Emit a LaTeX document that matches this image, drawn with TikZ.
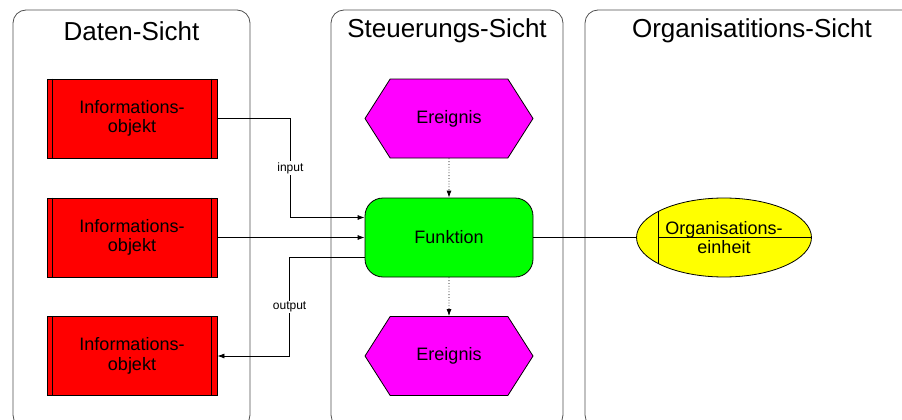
\documentclass[tikz,border=0pt]{standalone}
\usepackage{fontspec}
\setmainfont{Liberation Sans}
\usetikzlibrary{arrows.meta,shapes.geometric,shapes.symbols}
\definecolor{objred}{RGB}{255, 0, 0}
\definecolor{evmagenta}{RGB}{255, 0, 255}
\definecolor{fngreen}{RGB}{0, 255, 0}
\definecolor{orgyellow}{RGB}{255, 255, 0}
\definecolor{framegray}{RGB}{80, 80, 80}

\begin{document}
\begin{tikzpicture}[x = 1pt, y = -1pt, line width = 0.8pt,
			every node/.style = {font = \fontsize{18}{19.5}\selectfont, align = center},
			view/.style = {draw = framegray, rounded corners = 13pt},
			title/.style = {font = \fontsize{26}{28}\selectfont},
			lbl/.style = {fill = white, inner sep = 1pt, font = \fontsize{12}{13}\selectfont},
			>={Latex[length = 7pt, width = 5pt]}]
			\clip (0,0) rectangle (902,420);
			% Sichten
			\draw[view] (13,10) rectangle (250,428);
			\draw[view] (331,10) rectangle (563,428);
			\draw[view] (585,10) rectangle (919,428);
			\node (td) at (131.5,31) [title] {Daten-Sicht};
			\node (ts) at (447,31) [title] {Steuerungs-Sicht};
			\node (to) at (752,31) [title] {Organisatitions-Sicht};
			% Objekte
			\node (i1) at (132,118.5) [rectangle, draw, fill = objred, minimum width = 170pt, minimum height = 79pt] {Informations-\\objekt};
			\node (i2) at (132,237.5) [rectangle, draw, fill = objred, minimum width = 170pt, minimum height = 79pt] {Informations-\\objekt};
			\node (i3) at (132,356) [rectangle, draw, fill = objred, minimum width = 170pt, minimum height = 79pt] {Informations-\\objekt};
			\foreach \n in {i1,i2,i3}
				\draw ([xshift = 6pt]\n.north west) -- ([xshift = 6pt]\n.south west)
					([xshift = -6pt]\n.north east) -- ([xshift = -6pt]\n.south east);
			\node (e1) at (449,118.5) [signal, signal to = east and west, signal pointer angle = 115, draw, fill = evmagenta, minimum width = 168pt, minimum height = 79pt, inner sep = 0pt] {Ereignis};
			\node (f) at (449,237.5) [rectangle, rounded corners = 18pt, draw, fill = fngreen, minimum width = 168pt, minimum height = 79pt] {Funktion};
			\node (e2) at (449,356) [signal, signal to = east and west, signal pointer angle = 115, draw, fill = evmagenta, minimum width = 168pt, minimum height = 79pt, inner sep = 0pt] {Ereignis};
			\node (o) at (724,237.5) [ellipse, draw, fill = orgyellow, minimum width = 170pt, minimum height = 79pt,
				path picture = {\draw ([xshift = 22pt]path picture bounding box.north west) -- ([xshift = 22pt]path picture bounding box.south west);
					\draw ([xshift = 22pt]path picture bounding box.west) -- (path picture bounding box.east);}] {Organisations-\\einheit};
			% Kanten
			\draw[->] (i1.east) -- ++(73,0) |- node[pos = 0.25, lbl] {input} ([yshift = 20pt]f.west);
			\draw[->] (i2.east) -- (f.west);
			\draw[->] ([yshift = -20pt]f.west) -- ++(-75,0) |- node[pos = 0.25, lbl] {output} (i3.east);
			\draw[->, dotted] (e1) -- (f);
			\draw[->, dotted] (f) -- (e2);
			\draw (f) -- (o);
			\end{tikzpicture}
\end{document}
